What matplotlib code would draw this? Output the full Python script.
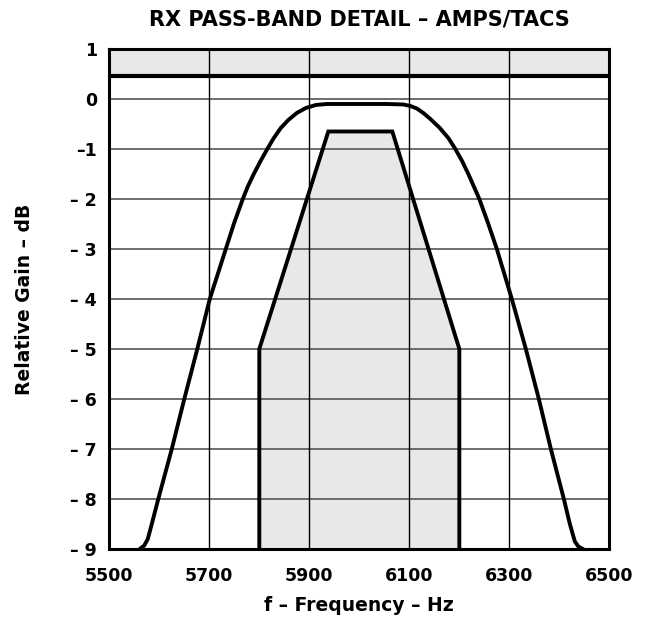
import matplotlib
matplotlib.use("Agg")
import matplotlib.pyplot as plt

plt.rcParams["font.family"] = ["DejaVu Sans"]
plt.rcParams["font.weight"] = "bold"

# filter response
freq = [5561, 5570, 5577, 5585, 5598, 5625, 5650, 5676, 5701, 5733, 5749, 5767,
        5777, 5789, 5802, 5816, 5829, 5843, 5858, 5875, 5893, 5913, 5935, 6002,
        6055, 6088, 6102, 6115, 6128, 6141, 6160, 6178, 6192, 6206, 6218, 6229,
        6240, 6258, 6275, 6305, 6333, 6359, 6383, 6409, 6421, 6431, 6438, 6447]
gain = [-9, -8.93, -8.8, -8.5, -8, -7, -6, -5, -4, -3, -2.5, -2,
        -1.75, -1.5, -1.25, -1, -0.78, -0.58, -0.42, -0.28, -0.18, -0.12, -0.1, -0.1,
        -0.1, -0.11, -0.14, -0.19, -0.28, -0.39, -0.57, -0.78, -1, -1.25, -1.5, -1.75,
        -2, -2.5, -3, -4, -5, -6, -7, -8, -8.5, -8.85, -8.95, -9]

# spec mask
mask_f = [5800, 5800, 5938, 6066, 6200, 6200]
mask_g = [-9, -5, -0.65, -0.65, -5, -9]

# upper limit band
band_lo = 0.45
band_hi = 1

xticks = [5500, 5700, 5900, 6100, 6300, 6500]
yticks = [1, 0, -1, -2, -3, -4, -5, -6, -7, -8, -9]
ylabels = ["1", "0", "\u20131", "\u2013 2", "\u2013 3", "\u2013 4", "\u2013 5",
           "\u2013 6", "\u2013 7", "\u2013 8", "\u2013 9"]

fig = plt.figure(figsize=(6.52, 6.24), dpi=100)
ax = fig.add_axes([0.1676, 0.1202, 0.767, 0.8013])

# grid
for y in yticks:
    ax.axhline(y, color="#555555", lw=1.2, zorder=1)
for x in [5700, 5900, 6100, 6300]:
    ax.axvline(x, color="black", lw=1.0, zorder=1)

# top band
ax.axhspan(band_lo, band_hi, color="#e8e8e8", zorder=0.5)
ax.axhline(band_lo, color="black", lw=3, zorder=3)

# mask
ax.fill(mask_f, mask_g, color="#e8e8e8", zorder=0.5)
ax.plot(mask_f, mask_g, color="black", lw=2.8, zorder=3, solid_joinstyle="miter")

# response
ax.plot(freq, gain, color="black", lw=2.8, zorder=4, solid_joinstyle="round")

ax.set_xlim(5500, 6500)
ax.set_ylim(-9, 1)
ax.set_xticks(xticks)
ax.set_xticklabels([str(v) for v in xticks], fontsize=12.5, fontweight="bold")
ax.set_yticks(yticks)
ax.set_yticklabels(ylabels, fontsize=12.5, fontweight="bold")
ax.tick_params(length=0)
ax.tick_params(axis="x", pad=13)
ax.tick_params(axis="y", pad=9)
for s in ax.spines.values():
    s.set_linewidth(2.2)
    s.set_zorder(5)

ax.set_title("RX PASS-BAND DETAIL \u2013 AMPS/TACS", fontsize=15, fontweight="bold", pad=17)
ax.set_xlabel("f \u2013 Frequency \u2013 Hz", fontsize=13.5, fontweight="bold", labelpad=8)
ax.set_ylabel("Relative Gain \u2013 dB", fontsize=13.5, fontweight="bold", labelpad=26)

fig.savefig("out.png", dpi=100)
